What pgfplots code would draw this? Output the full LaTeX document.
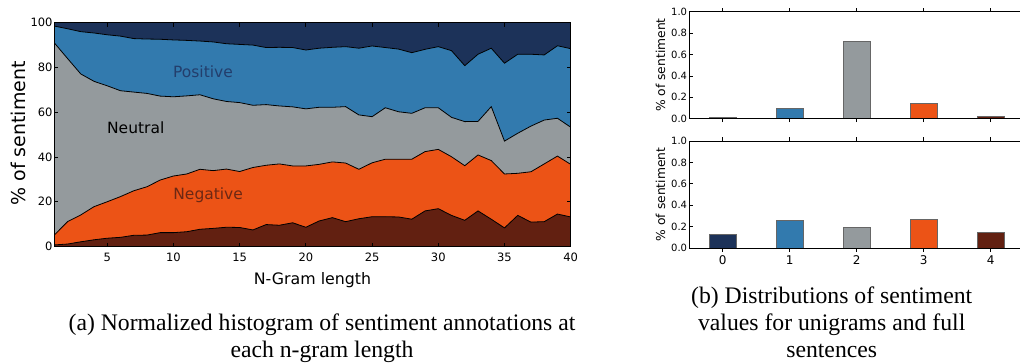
\documentclass[border=0pt]{standalone}
\usepackage{fontspec}
\setmainfont{Liberation Serif}
\newfontfamily\dv{DejaVu Sans}
\usepackage{pgfplots}
\usepackage{pgfplotstable}
\pgfplotsset{compat=1.18}
\definecolor{cnavy}{RGB}{28,50,89}
\definecolor{cblue}{RGB}{50,122,174}
\definecolor{cgray}{RGB}{148,154,157}
\definecolor{corange}{RGB}{236,83,22}
\definecolor{cbrown}{RGB}{98,32,17}
\definecolor{tpos}{RGB}{35,62,108}
\definecolor{tneg}{RGB}{108,40,20}

% cumulative boundaries (percent): B = top of dark brown, O = top of orange,
% G = top of gray, T = top of blue; navy fills up to 100
\pgfplotstableread{
n B O G T
1 0.7 5.1 91.0 98.5
2 1.1 11.1 84.0 97.3
3 2.1 14.1 77.1 96.0
4 3.0 17.8 73.8 95.4
5 3.7 20.0 71.8 94.6
6 4.1 22.3 69.6 94.0
7 5.0 24.9 69.0 92.9
8 5.1 26.7 68.4 92.7
9 6.2 29.7 67.2 92.6
10 6.2 31.5 66.9 92.3
11 6.6 32.4 67.3 92.1
12 7.7 34.5 67.8 91.8
13 8.1 33.9 66.0 91.4
14 8.6 34.6 64.8 90.6
15 8.5 33.5 64.3 90.3
16 7.4 35.3 63.1 90.0
17 9.8 36.3 63.4 88.9
18 9.5 36.9 62.8 89.0
19 10.6 36.0 62.4 88.9
20 8.6 36.0 61.5 87.8
21 11.4 36.7 62.2 88.6
22 12.9 37.8 62.2 89.0
23 11.1 37.3 62.5 89.3
24 12.4 34.5 58.8 88.6
25 13.3 37.4 58.0 89.6
26 13.3 39.0 62.0 88.9
27 13.2 39.0 60.2 88.2
28 12.2 39.0 59.5 86.6
29 15.9 42.4 62.0 88.1
30 16.9 43.4 62.0 89.3
31 13.9 40.1 57.7 87.5
32 11.7 36.1 55.8 80.8
33 15.9 40.9 55.9 85.9
34 12.2 38.4 62.5 88.6
35 8.3 32.4 47.1 81.9
36 13.9 32.7 50.6 85.9
37 10.9 33.4 53.8 85.9
38 11.1 36.9 56.5 85.6
39 14.5 40.4 57.3 89.7
40 13.2 36.7 53.3 88.4
}\ngram

\begin{document}
\begin{tikzpicture}
\useasboundingbox (0pt,0pt) rectangle (1020pt,362pt);

% ---------------- left: stacked areas ----------------
\begin{axis}[
  at={(54.3pt,115.5pt)}, anchor=south west,
  scale only axis, width=516.4pt, height=223.8pt,
  xmin=1, xmax=40, ymin=0, ymax=100,
  xtick={5,10,15,20,25,30,35,40},
  ytick={0,20,40,60,80,100},
  axis on top,
  axis line style={line width=1.2pt},
  major tick length=4pt,
  tick style={black, line width=0.8pt},
  /pgf/number format/assume math mode=true,
  ticklabel style={font=\dv\fontsize{11.5}{13}\selectfont},
  xticklabel style={inner sep=0pt, yshift=-6.5pt},
  yticklabel style={inner sep=0pt, xshift=-1.6pt},
]
\addplot[fill=cnavy, draw=none] coordinates {(1,100) (40,100)} \closedcycle;
\addplot[fill=cblue, draw=black, line width=0.8pt] table[x=n, y=T] {\ngram} \closedcycle;
\addplot[fill=cgray, draw=black, line width=0.8pt] table[x=n, y=G] {\ngram} \closedcycle;
\addplot[fill=corange, draw=black, line width=0.8pt] table[x=n, y=O] {\ngram} \closedcycle;
\addplot[fill=cbrown, draw=black, line width=0.8pt] table[x=n, y=B] {\ngram} \closedcycle;
\node[anchor=base, text=tpos, font=\dv\fontsize{15.5}{17}\selectfont] at (axis cs:12.23,75.5) {Positive};
\node[anchor=base, text=black, font=\dv\fontsize{15.5}{17}\selectfont] at (axis cs:7.15,50.3) {Neutral};
\node[anchor=base, text=tneg, font=\dv\fontsize{15.5}{17}\selectfont] at (axis cs:12.62,20.8) {Negative};
\end{axis}
\node[anchor=base, font=\dv\fontsize{15.8}{17}\selectfont] at (312.5pt,77.5pt) {N-Gram length};
\node[anchor=base, rotate=90, font=\dv\fontsize{19}{21}\selectfont] at (25.5pt,228.6pt) {\% of sentiment};

% ---------------- right top: unigrams ----------------
\begin{axis}[
  at={(689.3pt,243.3pt)}, anchor=south west,
  scale only axis, width=335pt, height=107pt,
  xmin=-0.5, xmax=4.5, ymin=0, ymax=1,
  ybar, bar width=0.41, bar shift=0pt,
  xtick={0,1,2,3,4}, xticklabels={},
  ytick={0,0.2,0.4,0.6,0.8,1},
  axis on top,
  axis line style={line width=0.9pt},
  major tick length=3.5pt,
  tick style={black, line width=0.7pt},
  /pgf/number format/assume math mode=true,
  yticklabel style={font=\dv\fontsize{10}{11}\selectfont, inner sep=0pt, xshift=-2pt,
    /pgf/number format/.cd, fixed, fixed zerofill, precision=1},
]
\addplot[fill=cnavy, draw=black!60, line width=0.9pt] coordinates {(0,0.012)};
\addplot[fill=cblue, draw=black!60, line width=0.9pt] coordinates {(1,0.097)};
\addplot[fill=cgray, draw=black!60, line width=0.9pt] coordinates {(2,0.72)};
\addplot[fill=corange, draw=black!60, line width=0.9pt] coordinates {(3,0.14)};
\addplot[fill=cbrown, draw=black!60, line width=0.9pt] coordinates {(4,0.022)};
\end{axis}
\node[anchor=base, rotate=90, font=\dv\fontsize{12.3}{14}\selectfont] at (665pt,297pt) {\% of sentiment};

% ---------------- right bottom: full sentences ----------------
\begin{axis}[
  at={(689.3pt,114pt)}, anchor=south west,
  scale only axis, width=335pt, height=107pt,
  xmin=-0.5, xmax=4.5, ymin=0, ymax=1,
  ybar, bar width=0.41, bar shift=0pt,
  xtick={0,1,2,3,4},
  ytick={0,0.2,0.4,0.6,0.8,1},
  axis on top,
  axis line style={line width=0.9pt},
  major tick length=3.5pt,
  tick style={black, line width=0.7pt},
  /pgf/number format/assume math mode=true,
  xticklabel style={font=\dv\fontsize{12}{13}\selectfont, inner sep=0pt, yshift=-3.7pt},
  yticklabel style={font=\dv\fontsize{10}{11}\selectfont, inner sep=0pt, xshift=-2pt,
    /pgf/number format/.cd, fixed, fixed zerofill, precision=1},
]
\addplot[fill=cnavy, draw=black!60, line width=0.9pt] coordinates {(0,0.128)};
\addplot[fill=cblue, draw=black!60, line width=0.9pt] coordinates {(1,0.262)};
\addplot[fill=cgray, draw=black!60, line width=0.9pt] coordinates {(2,0.19)};
\addplot[fill=corange, draw=black!60, line width=0.9pt] coordinates {(3,0.271)};
\addplot[fill=cbrown, draw=black!60, line width=0.9pt] coordinates {(4,0.15)};
\end{axis}
\node[anchor=base, rotate=90, font=\dv\fontsize{12.3}{14}\selectfont] at (665pt,167.5pt) {\% of sentiment};

% ---------------- captions ----------------
\begin{scope}[every node/.style={anchor=base, inner sep=0pt, font=\fontsize{23.7}{26}\selectfont}]
\node at (322pt,31.5pt) {(a) Normalized histogram of sentiment annotations at};
\node at (322pt,5pt) {each n-gram length};
\node at (831.7pt,58.5pt) {(b) Distributions of sentiment};
\node at (831.7pt,31.5pt) {values for unigrams and full};
\node at (831.7pt,5pt) {sentences};
\end{scope}
\end{tikzpicture}
\end{document}
